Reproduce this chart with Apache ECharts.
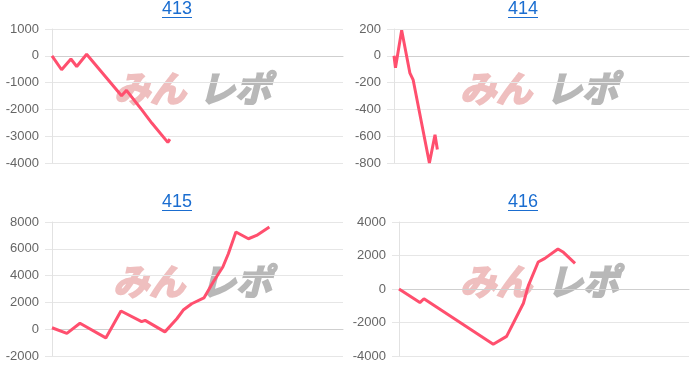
<!DOCTYPE html>
<html><head><meta charset="utf-8">
<script src="https://cdn.jsdelivr.net/npm/echarts@6/dist/echarts.min.js"></script>
<style>html,body{margin:0;padding:0;background:#fff}#c{width:700px;height:384px}</style>
</head><body><div id="c"></div>
<script>
// titles
const titles = ['413', '414', '415', '416'];
// x positions (percent of each chart's x range) and values
const x413 = [0, 3.3, 6.5, 8.5, 11.9, 23.9, 25.6, 30.8, 34.3, 39.8, 40.5];
const y413 = [0, -520, -120, -400, 60, -1490, -1290, -2010, -2510, -3230, -3110];
const x414 = [0, 0.5, 2.6, 5.4, 6.5, 12.0, 13.9, 14.7];
const y414 = [0, -90, 190, -130, -180, -800, -590, -700];
const x415 = [0, 5.1, 9.6, 18.5, 23.7, 30.8, 32.0, 38.8, 42.9, 45.1, 48.0, 52.2, 55.4, 58.7, 60.6, 63.2, 67.5, 70.3, 74.7];
const y415 = [110, -310, 440, -650, 1360, 560, 660, -200, 780, 1430, 1900, 2330, 3520, 4640, 5630, 7250, 6750, 7000, 7630];
const x416 = [0, 7.2, 8.6, 32.5, 37.1, 42.9, 44.6, 48.0, 50.3, 54.8, 56.7, 60.7];
const y416 = [0, -810, -580, -3300, -2830, -850, 200, 1610, 1830, 2390, 2190, 1530];
// y axis ranges
const yMin = [-4000, -800, -2000, -4000];
const yMax = [1000, 200, 8000, 4000];
const yStep = [1000, 200, 2000, 2000];

const xs = [x413, x414, x415, x416];
const ys = [y413, y414, y415, y416];

const grids = [
  {left: 52, right: 357, top: 29, bottom: 221},
  {left: 394, right: 11, top: 29, bottom: 221},
  {left: 52, right: 357, top: 222, bottom: 28},
  {left: 399, right: 11, top: 222, bottom: 28}
];
const titleX = [177, 523, 177, 523];
const titleY = [0, 0, 193, 193];
const wm = [[150, 235, 88], [496, 582, 88], [149, 236, 281], [496, 583, 281]];

const font = 'Liberation Sans, Arial, sans-serif';
const option = {
  animation: false,
  title: titles.map((t, i) => ({
    text: t, left: titleX[i], top: titleY[i], textAlign: 'center', padding: 0,
    textStyle: {color: '#1a6dd0', fontSize: 18, fontWeight: 'normal', fontFamily: font}
  })),
  grid: grids,
  xAxis: grids.map((g, i) => ({
    type: 'value', gridIndex: i, min: 0, max: 100,
    axisLabel: {show: false}, axisTick: {show: false}, splitLine: {show: false},
    axisLine: {show: true, onZero: true, lineStyle: {color: '#cfcfcf', width: 1}}
  })),
  yAxis: grids.map((g, i) => ({
    type: 'value', gridIndex: i, min: yMin[i], max: yMax[i], interval: yStep[i],
    axisLine: {show: true, lineStyle: {color: '#e2e2e2'}},
    axisTick: {show: true, length: 7, lineStyle: {color: '#e6e6e6'}},
    splitLine: {show: true, lineStyle: {color: '#e6e6e6'}},
    axisLabel: {color: '#666', fontSize: 13, fontFamily: font, margin: 13, formatter: v => String(v)}
  })),
  graphic: [].concat(...wm.map((w, i) => [
    {type: 'text', x: w[0], y: w[2], z: 0, silent: true,
     style: {text: 'みん', fill: '#efbfbf', stroke: '#efbfbf', lineWidth: 2, font: 'italic bold 36px "Noto Sans CJK JP"', align: 'center', verticalAlign: 'middle'}},
    {type: 'text', x: w[1], y: w[2], z: 0, silent: true,
     style: {text: 'レポ', fill: '#b8b8b8', stroke: '#b8b8b8', lineWidth: 2, font: 'italic bold 36px "Noto Sans CJK JP"', align: 'center', verticalAlign: 'middle'}},
    {type: 'line', z: 0, silent: true,
     shape: {x1: titleX[i] - 15, y1: titleY[i] + 17.5, x2: titleX[i] + 15, y2: titleY[i] + 17.5},
     style: {stroke: '#1a6dd0', lineWidth: 1}}
  ])),
  series: xs.map((xv, i) => ({
    type: 'line', xAxisIndex: i, yAxisIndex: i, z: 5,
    data: xv.map((x, k) => [x, ys[i][k]]),
    showSymbol: false, symbol: 'none',
    lineStyle: {color: '#ff4f6e', width: 3}
  }))
};
const chart = echarts.init(document.getElementById('c'), null, {renderer: 'canvas'});
chart.setOption(option);
</script></body></html>
